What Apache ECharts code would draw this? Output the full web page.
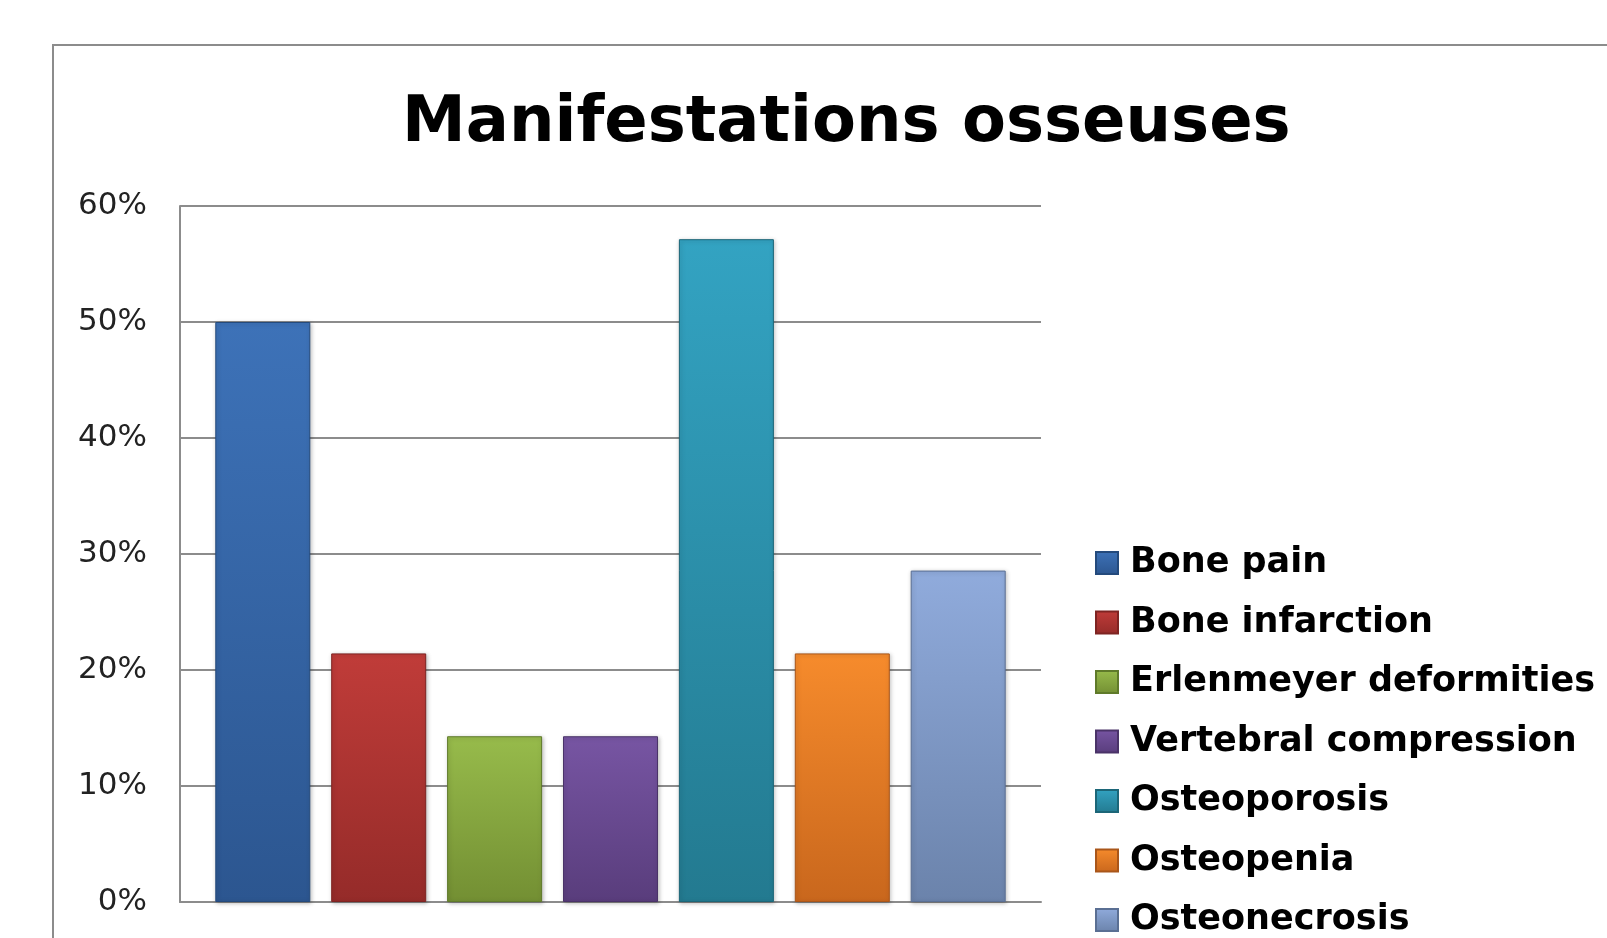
<!DOCTYPE html>
<html>
<head>
<meta charset="utf-8">
<script src="https://cdn.jsdelivr.net/npm/echarts@6/dist/echarts.min.js"></script>
<style>
html,body{margin:0;padding:0;background:#fff;}
#chart{width:1607px;height:938px;}
</style>
</head>
<body>
<div id="chart"></div>
<script>
const titleText = 'Manifestations osseuses';
const categories = ['Bone pain', 'Bone infarction', 'Erlenmeyer deformities', 'Vertebral compression', 'Osteoporosis', 'Osteopenia', 'Osteonecrosis'];
const values = [50, 21.43, 14.29, 14.29, 57.14, 21.43, 28.57];
const yTickValues = [0, 10, 20, 30, 40, 50, 60];

const topColors = ['#3d72b8', '#c03c39', '#97bb4b', '#7755a3', '#33a3c2', '#f68b2c', '#90abdc'];
const bottomColors = ['#2c5690', '#952b29', '#738f33', '#593d7c', '#237a90', '#c9671d', '#6b83ab'];
const edgeColors = ['#244a7c', '#7e2422', '#5f7a2a', '#4a3368', '#1c6678', '#a9561a', '#5a6f93'];

function grad(i) {
  return new echarts.graphic.LinearGradient(0, 0, 0, 1, [
    { offset: 0, color: topColors[i] },
    { offset: 1, color: bottomColors[i] }
  ]);
}

const chart = echarts.init(document.getElementById('chart'), null, { renderer: 'canvas' });

const series = categories.map((name, i) => ({
  name: name,
  type: 'bar',
  data: [values[i]],
  barWidth: 95,
  barGap: '22%',
  itemStyle: {
    color: grad(i), borderColor: edgeColors[i], borderWidth: 1,
    shadowColor: 'rgba(0,0,0,0.25)', shadowBlur: 4, shadowOffsetX: 1, shadowOffsetY: 1
  }
}));

chart.setOption({
  animation: false,
  backgroundColor: '#ffffff',
  title: {
    text: titleText,
    left: 402,
    top: 92,
    padding: 0,
    textStyle: { fontFamily: 'DejaVu Sans', fontWeight: 'bold', fontSize: 64, color: '#000' }
  },
  graphic: [{
    type: 'rect',
    shape: { x: 53, y: 45, width: 1700, height: 1000 },
    style: { fill: 'none', stroke: '#8c8c8c', lineWidth: 2 },
    silent: true,
    z: -1
  }],
  legend: {
    orient: 'vertical',
    left: 1095,
    top: 545,
    padding: 0,
    itemWidth: 22,
    itemHeight: 22,
    itemGap: 23.5,
    icon: 'rect',
    data: categories,
    textStyle: { fontFamily: 'DejaVu Sans', fontWeight: 'bold', fontSize: 35, lineHeight: 36, color: '#000', padding: [0, 0, 0, 7] }
  },
  grid: { left: 180, right: 566, top: 206, bottom: 36, containLabel: false },
  xAxis: {
    type: 'category',
    data: [''],
    axisLabel: { show: false },
    axisTick: { show: false },
    axisLine: { show: true, lineStyle: { color: '#8c8c8c', width: 2 } }
  },
  yAxis: {
    type: 'value',
    min: yTickValues[0],
    max: yTickValues[yTickValues.length - 1],
    interval: yTickValues[1] - yTickValues[0],
    axisLine: { show: true, lineStyle: { color: '#8c8c8c', width: 2 } },
    axisTick: { show: false },
    splitLine: { show: true, lineStyle: { color: '#8c8c8c', width: 2 } },
    axisLabel: { formatter: '{value}%', fontFamily: 'DejaVu Sans', fontSize: 31, color: '#222', margin: 33 }
  },
  series: series
});
</script>
</body>
</html>
